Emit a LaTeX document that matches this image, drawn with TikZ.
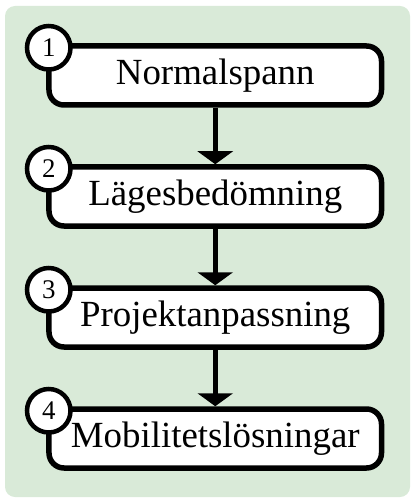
\documentclass[tikz,border=0pt]{standalone}
\usepackage{fontspec}
\setmainfont{Liberation Serif}
\usepackage{tikz}
\usetikzlibrary{arrows.meta}

\definecolor{bggreen}{RGB}{217,234,216}

\tikzset{
  stepbox/.style={draw=black, fill=white, line width=5.5bp, rounded corners=15bp,
    minimum width=332.5bp, minimum height=59bp, inner sep=0pt,
    text height=26bp, text depth=8bp, font=\fontsize{37}{40}\selectfont},
  numcircle/.style={circle, draw=black, fill=white, line width=4.5bp,
    minimum size=43.5bp, inner sep=0pt, font=\fontsize{27}{30}\selectfont},
  steparrow/.style={-{Triangle[width=35bp,length=13bp]}, line width=5bp}
}

\begin{document}
\begin{tikzpicture}[x=1bp,y=-1bp]
        \useasboundingbox (0,0) rectangle (411,502);
        \fill[bggreen, rounded corners=10bp] (5,6) rectangle (410,497); % background

        \foreach \txt [count=\i] in {Normalspann,Lägesbedömning,Projektanpassning,Mobilitetslösningar} % edit here for the steps
        \node[stepbox] (step\i) at (215.25,{75.5+121*(\i-1)}) {\txt};

        \foreach \i in {1,...,4} % edit here for the numbers
        \node[numcircle] (num\i) at ([shift={(2.5bp,-4.5bp)}]step\i.north west) {\i};

        \foreach \i/\j in {1/2,2/3,3/4}
        \draw[steparrow] (step\i.south) -- (step\j.north);
    \end{tikzpicture}
\end{document}
